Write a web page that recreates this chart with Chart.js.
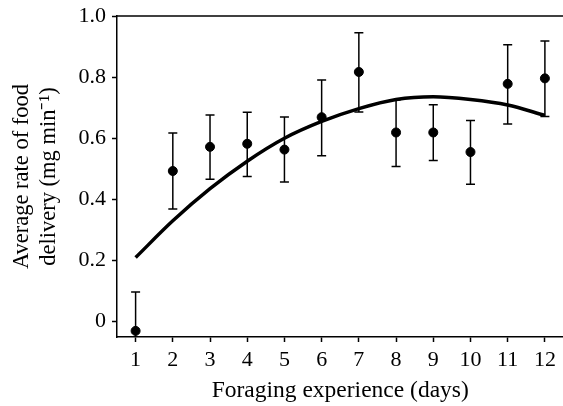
<!DOCTYPE html>
<html>
<head>
<meta charset="utf-8">
<script src="https://cdn.jsdelivr.net/npm/chart.js@4.4.0/dist/chart.umd.min.js"></script>
<style>
  html, body { margin: 0; padding: 0; background: #fff; overflow: hidden; }
  /* a little wider than the window: the x scale keeps ~6px spare on the right */
  #wrap { width: 569px; height: 406px; }
  canvas { display: block; }
</style>
</head>
<body>
<div id="wrap"><canvas id="chart"></canvas></div>
<script>
// days of foraging experience
const days = [1, 2, 3, 4, 5, 6, 7, 8, 9, 10, 11, 12];
// mean rate of food delivery (mg/min)
const meanRate = [-0.03, 0.493, 0.572, 0.582, 0.563, 0.669, 0.817, 0.619, 0.619, 0.555, 0.778, 0.796];
// upper / lower error bar ends
const errTop = [0.097, 0.617, 0.676, 0.685, 0.670, 0.791, 0.945, 0.725, 0.710, 0.658, 0.906, 0.918];
const errBottom = [-0.157, 0.369, 0.466, 0.475, 0.457, 0.543, 0.686, 0.508, 0.527, 0.450, 0.647, 0.671];
// fitted curve
const fitCurve = [0.21, 0.33, 0.435, 0.525, 0.60, 0.655, 0.697, 0.727, 0.736, 0.727, 0.709, 0.675];
const yTicks = [0, 0.2, 0.4, 0.6, 0.8, 1.0];

const serif = 'Liberation Serif, Times New Roman, serif';

// error bars + top frame line
const errorBars = {
  id: 'errorBars',
  afterDatasetsDraw(chart) {
    const { ctx, scales: { x, y }, chartArea } = chart;
    ctx.save();
    ctx.beginPath();
    ctx.rect(chartArea.left, chartArea.top, chartArea.right - chartArea.left, chartArea.bottom - chartArea.top);
    ctx.clip();
    ctx.strokeStyle = '#000';
    ctx.lineWidth = 1.5;
    days.forEach((d, i) => {
      const px = x.getPixelForValue(d);
      const top = y.getPixelForValue(errTop[i]);
      const bot = y.getPixelForValue(errBottom[i]);
      ctx.beginPath();
      ctx.moveTo(px, top); ctx.lineTo(px, bot);
      ctx.moveTo(px - 4.5, top); ctx.lineTo(px + 4.5, top);
      ctx.moveTo(px - 4.5, bot); ctx.lineTo(px + 4.5, bot);
      ctx.stroke();
    });
    ctx.restore();
    ctx.save();
    ctx.strokeStyle = '#000';
    ctx.lineWidth = 1.5;
    ctx.beginPath();
    ctx.moveTo(chartArea.left, chartArea.top);
    ctx.lineTo(chartArea.right, chartArea.top);
    ctx.stroke();
    ctx.restore();
  }
};

new Chart(document.getElementById('chart').getContext('2d'), {
  type: 'scatter',
  data: {
    datasets: [
      {
        label: 'mean',
        data: days.map((d, i) => ({ x: d, y: meanRate[i] })),
        backgroundColor: '#000',
        borderColor: '#000',
        pointRadius: 4.5,
        clip: false
      },
      {
        label: 'fit',
        type: 'line',
        data: days.map((d, i) => ({ x: d, y: fitCurve[i] })),
        borderColor: '#000',
        borderWidth: 3.5,
        pointRadius: 0,
        cubicInterpolationMode: 'monotone',
        fill: false
      }
    ]
  },
  options: {
    responsive: true,
    maintainAspectRatio: false,
    animation: false,
    layout: { padding: { top: 16, right: 0, left: 0, bottom: 0 } },
    plugins: { legend: { display: false }, tooltip: { enabled: false } },
    scales: {
      x: {
        type: 'linear',
        min: 0.5,
        max: 12.5,
        afterBuildTicks: s => { s.ticks = days.map(v => ({ value: v })); },
        afterFit: s => { s.height = 69; },
        grid: { drawOnChartArea: false, drawTicks: true, tickLength: 5, tickWidth: 1.5, color: '#000' },
        border: { display: true, color: '#000', width: 1.5 },
        ticks: { color: '#000', font: { family: serif, size: 22 }, padding: 5, maxRotation: 0 },
        title: { display: true, text: 'Foraging experience (days)', color: '#000', font: { family: serif, size: 23.5 }, padding: { top: 0, bottom: 1 } }
      },
      y: {
        min: -0.05,
        max: 1.0,
        afterBuildTicks: s => { s.ticks = yTicks.map(v => ({ value: v })); },
        // fixed width, and no extra room above for the "1.0" label
        afterFit: s => { s.width = 117; s.paddingTop = 0; s.paddingBottom = 0; },
        grid: { drawOnChartArea: false, drawTicks: true, tickLength: 5, tickWidth: 1.5, color: '#000' },
        border: { display: true, color: '#000', width: 1.5 },
        ticks: {
          color: '#000', font: { family: serif, size: 22 }, padding: 6,
          callback: v => (v === 0 ? '0' : v.toFixed(1))
        },
        title: {
          display: true,
          text: ['Average rate of food', 'delivery (mg min\u207B\u00B9)'],
          color: '#000', font: { family: serif, size: 22.5, lineHeight: 1.2 }, padding: { top: 9, bottom: 0 }
        }
      }
    }
  },
  plugins: [errorBars]
});
</script>
</body>
</html>
